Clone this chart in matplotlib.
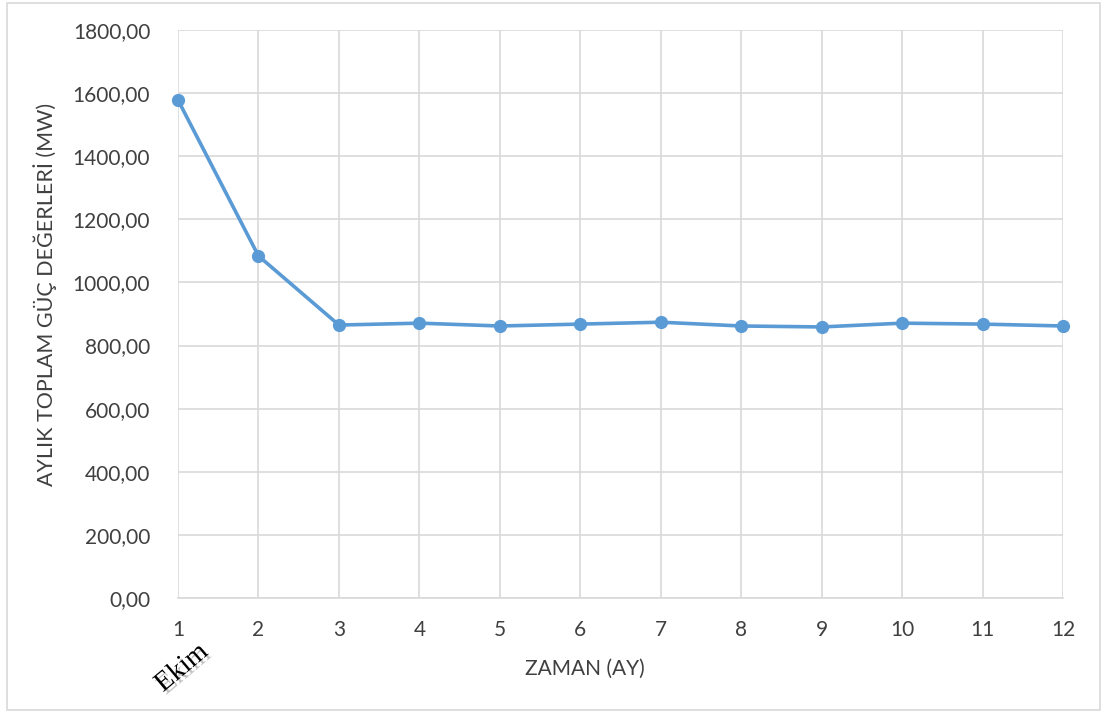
import numpy as np
import matplotlib.pyplot as plt
import matplotlib.patheffects as pe
from matplotlib.ticker import FuncFormatter
from matplotlib.patches import Rectangle

months = np.arange(1, 13)
power = [1578, 1084, 865, 871, 862, 868, 874, 862, 859, 871, 868, 862]
yticks = np.arange(0, 1801, 200)

plt.rcParams['font.family'] = ['Lato', 'DejaVu Sans']

fig = plt.figure(figsize=(11.03, 7.13), dpi=100)
ax = fig.add_axes([0.1614, 0.1613, 0.8024, 0.7966])

# chart frame
fig.patches.append(Rectangle((0.006, 0.004), 0.991, 0.992, transform=fig.transFigure,
                             fill=False, edgecolor='#d9d9d9', linewidth=1.2))

ax.plot(months, power, color='#5b9bd5', linewidth=2.6, marker='o', markersize=8.5,
        zorder=3, clip_on=False)

ax.set_xlim(1, 12)
ax.set_ylim(0, 1800)
ax.set_xticks(months)
ax.set_yticks(yticks)
ax.yaxis.set_major_formatter(FuncFormatter(lambda v, p: f"{v:.2f}".replace('.', ',')))
ax.grid(True, color='#d9d9d9', linewidth=1.2)
ax.set_axisbelow(True)
for s in ax.spines.values():
    s.set_visible(False)
ax.spines['bottom'].set_visible(True)
ax.spines['bottom'].set_color('#d9d9d9')
ax.spines['bottom'].set_linewidth(1.2)
ax.tick_params(length=0, labelsize=15, colors='#404040')
ax.tick_params(axis='y', pad=20)
ax.tick_params(axis='x', pad=16)

ax.set_xlabel('ZAMAN (AY)', fontsize=15, color='#404040')
ax.set_ylabel('AYLIK TOPLAM GÜÇ DEĞERLERİ (MW)', fontsize=15.5, color='#404040')
ax.xaxis.set_label_coords(0.46, -0.108)
ax.yaxis.set_label_coords(-0.137, 0.535)

fig.text(0.165, 0.063, 'Ekim', fontsize=20, family='Liberation Serif', rotation=40,
         ha='center', va='center',
         path_effects=[pe.withSimplePatchShadow(offset=(2, -2), shadow_rgbFace='#9a9a9a', alpha=0.6)])

fig.savefig('out.png', dpi=100)
